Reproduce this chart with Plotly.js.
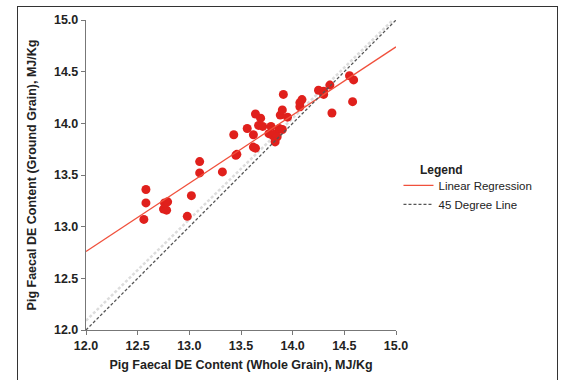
<!DOCTYPE html>
<html>
<head>
<meta charset="utf-8">
<script src="https://cdn.plot.ly/plotly-3.0.1.min.js"></script>
<style>
html,body{margin:0;padding:0;background:#fff;}
#chart{width:569px;height:380px;position:relative;}
#frame{position:absolute;left:17px;top:6px;width:539px;height:400px;border:1.5px solid #333;pointer-events:none;}
</style>
</head>
<body>
<div id="chart"></div>
<div id="frame"></div>
<script>
// Observed data: whole grain (x) vs ground grain (y) DE content, MJ/Kg
const wholeGrain = [12.58,12.58,12.56,12.75,12.78,12.76,12.79,13.02,12.98,13.10,13.10,13.32,13.45,13.46,13.62,13.64,13.43,13.56,13.62,13.64,13.69,13.67,13.71,13.79,13.77,13.81,13.83,13.85,13.83,13.87,13.90,13.88,13.90,13.95,13.91,14.07,14.07,14.09,14.25,14.30,14.30,14.36,14.38,14.55,14.59,14.58];
const groundGrain = [13.36,13.23,13.07,13.17,13.16,13.23,13.24,13.30,13.10,13.63,13.52,13.53,13.69,13.70,13.77,13.76,13.89,13.95,13.89,14.09,14.05,13.98,13.97,13.97,13.90,13.88,13.90,13.87,13.82,13.95,13.94,14.08,14.13,14.06,14.28,14.16,14.20,14.23,14.32,14.31,14.28,14.37,14.10,14.46,14.42,14.21];

// Fitted regression line endpoints
const regX = [12.0, 15.0];
const regY = [12.76, 14.74];

// 45 degree reference line
const refX = [12.0, 15.0];
const refY = [12.0, 15.0];

// faint duplicate of the reference line visible in the picture
const ghostX = [12.0, 14.97];
const ghostY = [12.09, 15.0];

const tickVals = [12.0, 12.5, 13.0, 13.5, 14.0, 14.5, 15.0];
const tickText = ['12.0','12.5','13.0','13.5','14.0','14.5','15.0'];

const traces = [
  {x: ghostX, y: ghostY, mode:'lines', line:{color:'#dcdcdc', width:2.5, dash:'3px,2px'}, showlegend:false, hoverinfo:'skip'},
  {x: wholeGrain, y: groundGrain, mode:'markers', marker:{color:'#e0201c', size:9}, showlegend:false},
  {x: regX, y: regY, mode:'lines', name:'Linear Regression', line:{color:'#f0503c', width:1.3}},
  {x: refX, y: refY, mode:'lines', name:'45 Degree Line', line:{color:'#555', width:1.3, dash:'3px,2px'}}
];

const axisCommon = {
  range:[12,15], tickvals: tickVals, ticktext: tickText,
  showgrid:false, zeroline:false, showline:true, linecolor:'#777', linewidth:1.2,
  ticks:'outside', ticklen:4, tickcolor:'#777',
  tickfont:{family:'Liberation Sans, Arial, sans-serif', size:12.5, color:'#222', weight:'bold'}
};

const layout = {
  width:569, height:380,
  margin:{l:86, r:173, t:20, b:50},
  paper_bgcolor:'#fff', plot_bgcolor:'#fff',
  font:{family:'Liberation Sans, Arial, sans-serif', size:12, color:'#222'},
  xaxis: Object.assign({}, axisCommon, {
    title:{text:'<b>Pig Faecal DE Content (Whole Grain), MJ/Kg</b>', font:{size:12.5, color:'#222'}, standoff:8}
  }),
  yaxis: Object.assign({}, axisCommon, {
    title:{text:'<b>Pig Faecal DE Content (Ground Grain), MJ/Kg</b>', font:{size:12.5, color:'#222'}, standoff:14}
  }),
  legend:{
    x:1.008, xanchor:'left', y:0.513, yanchor:'top',
    font:{size:11.5, color:'#222'},
    itemwidth:30, tracegroupgap:0,
    bgcolor:'rgba(0,0,0,0)'
  },
  annotations:[{
    text:'<b>Legend</b>', xref:'paper', yref:'paper', x:1.071, y:0.516,
    xanchor:'left', yanchor:'middle', showarrow:false, font:{size:12, color:'#222'}
  }],
  showlegend:true
};

Plotly.newPlot('chart', traces, layout, {displayModeBar:false, staticPlot:true});
</script>
</body>
</html>
